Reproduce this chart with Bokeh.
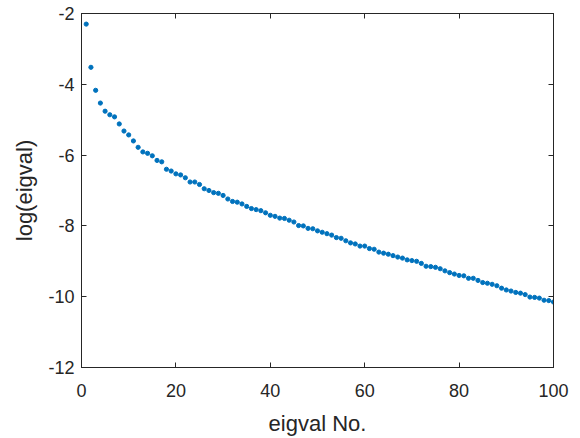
from bokeh.plotting import figure
from bokeh.models import LinearAxis, FixedTicker, Range1d
from bokeh.embed import file_html
from bokeh.resources import INLINE

idx = list(range(1, 101))
log_eigval = [
    -2.30, -3.52, -4.17, -4.53, -4.76, -4.86, -4.92, -5.12, -5.32, -5.43,
    -5.60, -5.78, -5.91, -5.95, -6.02, -6.15, -6.19, -6.40, -6.45, -6.53,
    -6.56, -6.64, -6.76, -6.76, -6.83, -6.95, -7.00, -7.06, -7.08, -7.14,
    -7.24, -7.31, -7.33, -7.38, -7.45, -7.51, -7.54, -7.57, -7.63, -7.70,
    -7.73, -7.78, -7.79, -7.84, -7.89, -7.99, -8.00, -8.07, -8.08, -8.14,
    -8.18, -8.22, -8.26, -8.33, -8.35, -8.42, -8.48, -8.51, -8.57, -8.57,
    -8.64, -8.66, -8.74, -8.77, -8.80, -8.84, -8.88, -8.91, -8.96, -8.98,
    -9.00, -9.06, -9.14, -9.15, -9.17, -9.21, -9.27, -9.32, -9.36, -9.40,
    -9.41, -9.48, -9.48, -9.54, -9.60, -9.62, -9.65, -9.69, -9.76, -9.81,
    -9.84, -9.88, -9.90, -9.94, -10.01, -10.02, -10.04, -10.10, -10.11, -10.15,
]
x_ticks = [0, 20, 40, 60, 80, 100]
y_ticks = [-12, -10, -8, -6, -4, -2]
y_tick_labels = {t: str(t) for t in y_ticks}

FONT = "Liberation Sans"
AX = "#262626"

p = figure(width=571, height=438, output_backend="svg", toolbar_location=None,
           x_range=Range1d(0, 100), y_range=Range1d(-12, -2),
           min_border_left=81, min_border_right=18, min_border_top=13,
           min_border_bottom=70, x_axis_label="eigval No.",
           y_axis_label="log(eigval)")
p.grid.visible = False
p.outline_line_color = AX
p.outline_line_width = 1
p.background_fill_color = "white"
p.border_fill_color = "white"

p.scatter(idx, log_eigval, size=4.2, marker="circle", fill_color="#0072BD",
          line_color="#0072BD")

for ax, ticks in ((p.xaxis[0], x_ticks), (p.yaxis[0], y_ticks)):
    ax.ticker = FixedTicker(ticks=ticks)
    ax.minor_tick_line_color = None
    ax.major_tick_in = 5
    ax.major_tick_out = 0
    ax.axis_line_color = AX
    ax.major_tick_line_color = AX
    ax.major_label_text_font = FONT
    ax.major_label_text_font_size = "18px"
    ax.major_label_text_color = AX
    ax.axis_label_text_font = FONT
    ax.axis_label_text_font_size = "22px"
    ax.axis_label_text_font_style = "normal"
    ax.axis_label_text_color = AX

p.yaxis[0].major_label_overrides = y_tick_labels
p.xaxis[0].major_label_standoff = 16
p.xaxis[0].axis_label_standoff = 11
p.yaxis[0].major_label_standoff = 7
p.yaxis[0].axis_label_standoff = 8

for loc, ticks in (("right", y_ticks), ("above", x_ticks)):
    a = LinearAxis(ticker=FixedTicker(ticks=ticks))
    a.major_label_text_font_size = "1px"
    a.major_label_text_color = None
    a.major_label_standoff = 0
    a.minor_tick_line_color = None
    a.major_tick_in = 5
    a.major_tick_out = 0
    a.axis_line_color = AX
    a.major_tick_line_color = AX
    p.add_layout(a, loc)

open("out.html", "w").write(file_html(p, INLINE))
